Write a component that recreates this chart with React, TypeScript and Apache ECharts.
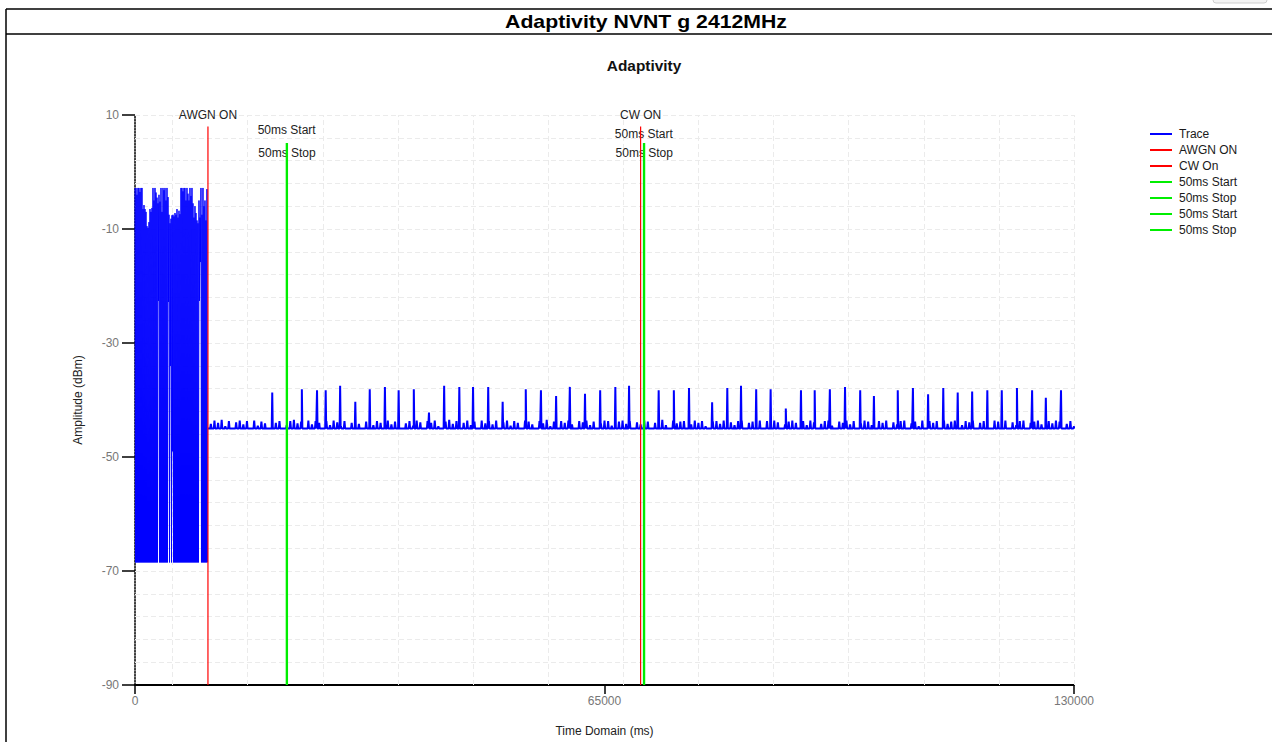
import React, { useEffect, useRef } from 'react';
import * as echarts from 'echarts';

const FONT = "'Liberation Sans', Arial, sans-serif";

const chartTitle = 'Adaptivity NVNT g 2412MHz';
const plotTitle = 'Adaptivity';
const xAxisName = 'Time Domain (ms)';
const yAxisName = 'Amplitude (dBm)';

const xMin = 0;
const xMax = 130000;
const xTickStep = 65000;
const yMin = -90;
const yMax = 10;
const yTickStep = 20;

// light dashed grid lines
const xGridTimes = [5200, 15600, 26000, 36400, 46800, 57200, 67600, 78000, 88400, 98800, 109200, 119600, 130000];
const yGridLevels = [10, 6, 2, -2, -6, -10, -14, -18, -22, -26, -30, -34, -38, -42, -46, -50, -54, -58, -62, -66, -70, -74, -78, -82, -86];

// AWGN-on block: sample period and upper / lower excursions of each sample pair
const awgnSampleMs = 138.4;
const awgnTops = [
  -2.8, -2.8, -4.0, -2.8, -2.8, -3.5, -2.8, -2.8,
  -6.5, -5.8, -6.5, -7.0,
  -9.5, -9.8, -8.8,
  -6.5, -7.0, -6.3,
  -2.8, -5.0, -2.8, -3.6,
  -4.5, -5.5, -4.0, -5.2,
  -2.8, -7.0, -2.8, -3.2,
  -2.8, -5.0, -2.8, -4.4,
  -7.5, -9.0, -8.2, -7.6,
  -7.5, -7.8, -7.2, -7.5,
  -6.5, -8.0, -6.8, -7.4,
  -2.8, -2.8, -3.4, -2.8,
  -2.8, -5.0, -2.8, -3.8,
  -5.0, -2.8, -4.2, -2.8,
  -5.5, -8.0, -6.0, -7.2,
  -8.5, -9.0, -5.0, -8.0,
  -2.8, -7.5, -2.8, -6.0,
  -5.0, -8.5, -3.0,
];
const awgnBottoms = [
  -68.5, -68.5, -68.5, -68.5, -68.5, -68.5, -68.5, -68.5, -68.5, -68.5,
  -68.5, -68.5, -68.5, -68.5, -68.5, -68.5, -68.5, -68.5, -68.5, -68.5,
  -68.5, -68.5, -68.5, -22.6, -68.5, -68.5, -68.5, -68.5, -68.5, -68.5,
  -68.5, -68.5, -68.5, -22.8, -68.5, -34.0, -68.5, -49.0, -68.5, -68.5,
  -68.5, -68.5, -68.5, -68.5, -68.5, -68.5, -68.5, -68.5, -68.5, -68.5,
  -68.5, -68.5, -68.5, -68.5, -68.5, -68.5, -68.5, -68.5, -68.5, -68.5,
  -68.5, -68.5, -68.5, -68.5, -22.6, -15.8, -68.5, -68.5, -68.5, -68.5,
  -68.5, -68.5, -68.5,
];

// noise floor after AWGN ON
const floorBase = -45;
const floorStartMs = 10500;
const floorStepMs = 500;
const floorLevels = [
  -44.2, -43.6, -44.0, -43.5, -44.6, -43.7, -45, -43.9, -43.6, -44.3, -43.7, -45, -43.6, -44.5, -43.8, -44.1, -45, -43.6, -44.0, -43.7,
  -45, -44.4, -43.7, -43.5, -44.1, -43.8, -45, -43.6, -44.3, -43.7, -44.0, -45, -43.7, -44.4, -43.6, -43.9, -44.6, -43.7, -45, -44.0,
  -43.6, -44.2, -45, -43.8, -43.5, -44.4, -43.7, -44.0, -45, -43.6, -44.3, -43.8, -43.6, -45, -44.1, -43.7, -44.5, -43.6, -43.9, -45,
  -43.7, -44.0, -43.6, -44.6, -45, -43.8, -43.5, -44.2, -43.7, -45, -44.0, -43.6, -44.4, -43.8, -45, -43.6, -44.1, -43.7, -44.3, -43.6,
  -45, -43.9, -43.6, -44.5, -43.7, -44.0, -45, -43.6, -43.8, -44.3, -45, -43.7, -44.1, -43.5, -44.6, -43.8, -45, -43.7, -44.0, -43.6,
  -44.3, -45, -43.7, -43.9, -43.6, -44.4, -43.8, -45, -44.1, -43.6, -43.7, -44.5, -45, -43.8, -43.6, -44.2, -43.7, -45, -43.9, -44.3,
  -43.6, -43.8, -45, -44.0, -43.7, -43.5, -44.4, -45, -43.6, -44.1, -43.8, -43.7, -45, -44.3, -43.6, -44.0, -43.7, -44.6, -45, -43.8,
  -43.7, -44.2, -43.6, -45, -43.9, -44.4, -43.7, -43.6, -45, -44.0, -43.8, -44.5, -43.6, -45, -43.7, -44.1, -43.6, -43.9, -45, -44.3,
  -43.8, -43.6, -44.0, -45, -43.7, -44.4, -43.6, -43.9, -45, -44.2, -43.7, -43.6, -44.5, -45, -43.8, -44.0, -43.6, -44.3, -43.7, -45,
  -44.1, -43.6, -43.8, -44.4, -45, -43.7, -44.0, -43.6, -45, -43.9, -44.3, -43.7, -43.6, -45, -44.1, -43.8, -44.6, -43.6, -45, -43.7,
  -44.0, -43.7, -45, -43.6, -44.2, -43.8, -43.6, -45, -44.4, -43.7, -43.9, -43.6, -45, -44.0, -43.7, -44.3, -45, -43.6, -43.8, -44.1,
  -43.6, -45, -43.9, -44.4, -43.7, -43.6, -45, -44.0, -43.8, -43.6, -44.3, -45, -43.7, -44.1, -43.6, -43.8, -45, -44.2, -43.7, -44.6,
];

// periodic spikes above the floor
const spikeTimes = [
  19000, 23100, 25200, 26400, 28400, 30500, 32500, 34600, 36500, 38600,
  40700, 42800, 44900, 46800, 48900, 50900, 54100, 56200, 58300, 60200,
  62300, 64400, 66500, 68400, 72500, 74600, 76700, 79900, 82000, 83900,
  86000, 88000, 90100, 92200, 94100, 96200, 98300, 100400, 102300, 105600,
  107700, 109800, 111900, 113900, 115900, 118000, 120000, 122100, 124200, 126100,
  128200,
];
const spikeLevels = [
  -38.7, -38.1, -38.3, -38.3, -37.5, -40.3, -38.1, -37.7, -38.3, -38.1,
  -42.2, -37.5, -37.7, -37.7, -37.7, -40.3, -38.1, -38.3, -39.3, -37.7,
  -38.9, -38.3, -37.7, -37.5, -38.3, -38.3, -37.9, -40.4, -37.9, -37.5,
  -38.1, -38.1, -41.5, -38.3, -38.3, -38.1, -37.7, -38.3, -39.3, -38.3,
  -37.9, -39.0, -37.9, -38.7, -38.5, -38.3, -38.3, -37.9, -38.3, -39.6,
  -38.3,
];

// event markers
const markerNames = ['AWGN ON', 'CW On', '50ms Start', '50ms Stop', '50ms Start#2', '50ms Stop#2'];
const markerLabels = ['AWGN ON', 'CW ON', '50ms Start', '50ms Stop', '50ms Start', '50ms Stop'];
const markerTimes = [10100, 70000, 21000, 21050, 70450, 70500];
const markerTops = [8.0, 8.0, 5.1, 5.1, 5.1, 5.1];
const markerLabelLevels = [10, 10, 7.3, 3.4, 6.7, 3.4];
const markerColors = ['#ff0000', '#ff0000', '#00ee00', '#00ee00', '#00ee00', '#00ee00'];
const markerWidths = [1.2, 1.2, 2, 2, 2, 2];

const legendNames = ['Trace', 'AWGN ON', 'CW On', '50ms Start', '50ms Stop', '50ms Start#2', '50ms Stop#2'];

function buildAwgn(): number[][] {
  const pts: number[][] = [];
  awgnTops.forEach((top, i) => {
    const t = i * awgnSampleMs;
    pts.push([t, top]);
    pts.push([t + awgnSampleMs / 2, awgnBottoms[i]]);
  });
  return pts;
}

function buildFloor(): number[][] {
  const events: { t: number; v: number; h: number }[] = [];
  floorLevels.forEach((v, i) => events.push({ t: floorStartMs + i * floorStepMs, v, h: 90 }));
  spikeTimes.forEach((t, i) => events.push({ t, v: spikeLevels[i], h: 70 }));
  events.sort((a, b) => a.t - b.t);
  const pts: number[][] = [[markerTimes[0], floorBase]];
  for (const e of events) {
    if (e.v > floorBase) {
      pts.push([e.t - e.h, floorBase], [e.t, e.v], [Math.min(e.t + e.h, xMax), floorBase]);
    }
  }
  pts.push([xMax, floorBase]);
  return pts;
}

export default function App() {
  const ref = useRef<HTMLDivElement>(null);

  useEffect(() => {
    if (!ref.current) return;
    const chart = echarts.init(ref.current, null, { renderer: 'svg' });

    const markerSeries = markerNames.map((name, i) => ({
      type: 'line',
      name,
      data: [
        [markerTimes[i], yMin],
        [markerTimes[i], markerTops[i]],
      ],
      showSymbol: false,
      symbol: 'none',
      lineStyle: { color: markerColors[i], width: markerWidths[i] },
      itemStyle: { color: markerColors[i] },
      z: 4 + i,
      markPoint: {
        symbol: 'rect',
        symbolSize: 1,
        silent: true,
        itemStyle: { color: 'rgba(0,0,0,0)' },
        label: {
          show: true,
          position: 'inside',
          formatter: markerLabels[i],
          color: '#222',
          fontSize: 12,
          fontFamily: FONT,
        },
        data: [{ coord: [markerTimes[i], markerLabelLevels[i]] }],
      },
    }));

    chart.setOption({
      animation: false,
      backgroundColor: '#ffffff',
      textStyle: { fontFamily: FONT },
      grid: { left: 135, right: 198, top: 115, bottom: 51 },
      legend: {
        data: legendNames,
        orient: 'vertical',
        left: 1150,
        top: 127,
        padding: 0,
        icon: 'rect',
        itemWidth: 22,
        itemHeight: 2,
        itemGap: 2,
        selectedMode: false,
        formatter: (n: string) => n.split('#')[0],
        textStyle: { color: '#1a1a1a', fontSize: 12, lineHeight: 14, fontFamily: FONT, padding: [0, 0, 0, 2] },
      },
      xAxis: {
        type: 'value',
        min: xMin,
        max: xMax,
        interval: xTickStep,
        name: xAxisName,
        nameLocation: 'middle',
        nameGap: 40,
        nameTextStyle: { color: '#222', fontSize: 12, fontFamily: FONT },
        axisLine: { show: true, onZero: false, lineStyle: { color: '#000', width: 2 } },
        axisTick: { show: true, length: 9, lineStyle: { color: '#000', width: 1.5 } },
        axisLabel: { color: '#777', fontSize: 12, margin: 10, fontFamily: FONT, formatter: (v: number) => String(v) },
        splitLine: { show: false },
      },
      yAxis: {
        type: 'value',
        min: yMin,
        max: yMax,
        interval: yTickStep,
        name: yAxisName,
        nameLocation: 'middle',
        nameGap: 51,
        nameTextStyle: { color: '#222', fontSize: 12, fontFamily: FONT },
        axisLine: { show: true, onZero: false, lineStyle: { color: '#000', width: 1.5, type: 'dotted' } },
        axisTick: { show: true, length: 13, lineStyle: { color: '#000', width: 1.5 } },
        axisLabel: { color: '#777', fontSize: 12, margin: 16, fontFamily: FONT, formatter: (v: number) => String(v) },
        splitLine: { show: false },
      },
      graphic: [
        { type: 'line', shape: { x1: 6, y1: 9, x2: 1272, y2: 9 }, style: { stroke: '#000', lineWidth: 1.5 } },
        { type: 'line', shape: { x1: 6, y1: 34, x2: 1272, y2: 34 }, style: { stroke: '#000', lineWidth: 1.5 } },
        { type: 'line', shape: { x1: 6, y1: 9, x2: 6, y2: 742 }, style: { stroke: '#000', lineWidth: 1.5 } },
        { type: 'rect', shape: { x: 1213, y: -6, width: 54, height: 9, r: 3 }, style: { fill: '#f4f4f4', stroke: '#cfcfcf', lineWidth: 1 } },
        {
          type: 'text',
          x: 646,
          y: 22,
          scaleX: 1.18,
          style: { text: chartTitle, fill: '#000', font: `bold 18px ${FONT}`, textAlign: 'center', textVerticalAlign: 'middle' },
        },
        {
          type: 'text',
          x: 644,
          y: 66,
          scaleX: 1.1,
          style: { text: plotTitle, fill: '#111', font: `bold 14px ${FONT}`, textAlign: 'center', textVerticalAlign: 'middle' },
        },
      ],
      series: [
        {
          type: 'line',
          name: 'grid',
          data: [[xMin, yMin]],
          showSymbol: false,
          symbol: 'none',
          lineStyle: { opacity: 0 },
          z: 1,
          markLine: {
            silent: true,
            z: 1,
            symbol: ['none', 'none'],
            label: { show: false },
            lineStyle: { color: '#ebebeb', type: [5, 3], width: 1 },
            data: [
              ...xGridTimes.map((t) => ({ xAxis: t })),
              ...yGridLevels.map((v) => ({ yAxis: v })),
            ],
          },
        },
        {
          type: 'line',
          name: 'Trace',
          data: buildAwgn(),
          showSymbol: false,
          symbol: 'none',
          lineStyle: { color: '#0000ff', width: 1 },
          itemStyle: { color: '#0000ff' },
          z: 2,
        },
        {
          type: 'line',
          name: 'Trace',
          data: buildFloor(),
          showSymbol: false,
          symbol: 'none',
          lineStyle: { color: '#0000ff', width: 2 },
          itemStyle: { color: '#0000ff' },
          z: 2,
        },
        ...markerSeries,
      ],
    });

    return () => chart.dispose();
  }, []);

  return <div ref={ref} style={{ position: 'absolute', left: 0, top: 0, width: 1272, height: 742 }} />;
}
